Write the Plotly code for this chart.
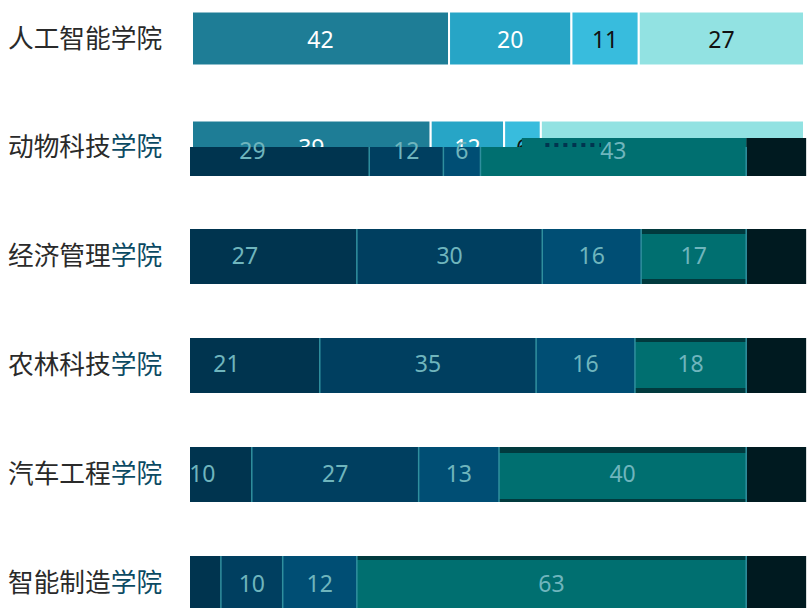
import numpy as np
import plotly.graph_objects as go

categories = ["人工智能学院", "动物科技学院", "经济管理学院", "农林科技学院", "汽车工程学院", "智能制造学院"]

# light layer (only the first two rows are visible in the reference)
light_a = [42, 39]
light_b = [20, 12]
light_c = [11, 6]
light_d = [27, 43]

# dark layer, rows 2-6
dark_a = [29, 27, 21, 10, 5]
dark_b = [12, 30, 35, 27, 10]
dark_c = [6, 16, 16, 13, 12]
dark_d = [43, 17, 18, 40, 63]
dark_e = [9.7, 9.7, 9.7, 9.7, 9.7]

light_colors = ["#1e7d96", "#27a5c6", "#38bcdd", "#92e2e2"]
light_text = ["#ffffff", "#ffffff", "#111111", "#111111"]
dark_colors = ["#00344f", "#003f60", "#004e74", "#006f70", "#001a20"]

PX = 108.9
Y0 = 38.5


def k(p):
    return (np.asarray(p, float) - Y0) / PX


fig = go.Figure()
base = np.zeros(2)
light_y = np.arange(2)
for vals, col, tc in zip([light_a, light_b, light_c, light_d], light_colors, light_text):
    v = np.array(vals, float)
    fig.add_trace(go.Bar(y=light_y, x=v, base=base, orientation="h", width=54 / PX,
                         marker=dict(color=col, line=dict(color="#ffffff", width=2)),
                         text=[str(x) for x in vals], textposition="inside", insidetextanchor="middle",
                         constraintext="none", textangle=0,
                         textfont=dict(color=tc, size=23, family="Noto Sans"),
                         hoverinfo="skip", showlegend=False, xaxis="x", yaxis="y"))
    base = base + v

# bar geometry of the dark layer per row, pixel top/bottom
dark_y = np.arange(1, 6)
top = np.array([147, 229, 338, 447, 556], float)
bot = np.array([176, 284, 393, 502, 612], float)
teal_top = np.array([147, 234, 342, 453, 560], float)
teal_bot = np.array([176, 279, 388, 499, 612], float)
label_y = np.array([153, 258, 366, 476, 586], float)
first_label_shift = np.array([-4.4, -4.6, -4.6, -3.0, 0.0])
strip_x = 53.7
strip_len = 36.3

series = [dark_a, dark_b, dark_c, dark_d, dark_e]
base = np.zeros(5)
text_x, text_y, text_t = [], [], []
sep_x, sep_y = [], []
for i, (vals, col) in enumerate(zip(series, dark_colors)):
    v = np.array(vals, float)
    t, b = top.copy(), bot.copy()
    if i == 4:
        t[0] = 138
    if i == 3:
        fig.add_trace(go.Bar(y=dark_y, x=v, base=base, orientation="h",
                             width=(b - t) / PX, offset=k(t) - dark_y,
                             marker=dict(color="#013a3e", line=dict(width=0)),
                             hoverinfo="skip", showlegend=False, xaxis="x2", yaxis="y"))
        t, b = teal_top.copy(), teal_bot.copy()
    fig.add_trace(go.Bar(y=dark_y, x=v, base=base, orientation="h",
                         width=(b - t) / PX, offset=k(t) - dark_y,
                         marker=dict(color=col, line=dict(width=0)),
                         hoverinfo="skip", showlegend=False, xaxis="x2", yaxis="y"))
    if i < 4:
        cx = base + v / 2
        if i == 0:
            cx = cx + first_label_shift
        text_x += list(cx)
        text_y += list(k(label_y))
        labels = [str(x) for x in vals]
        if i == 0:
            labels[4] = ""
        text_t += labels
        for j in range(5):
            sep_x += [base[j] + v[j], base[j] + v[j], None]
            sep_y += [float(k(top[j])), float(k(bot[j])), None]
    base = base + v

# upper strip of the teal segment in row 2
fig.add_trace(go.Bar(y=[1], x=[strip_len], base=[strip_x], orientation="h",
                     width=[9 / PX], offset=[float(k(138)) - 1],
                     marker=dict(color=dark_colors[3], line=dict(width=0)),
                     hoverinfo="skip", showlegend=False, xaxis="x2", yaxis="y"))
# dotted artefact on that strip
fig.add_trace(go.Scatter(x=[57.5, 66.5], y=[float(k(145))] * 2, mode="lines",
                         line=dict(color="#00344f", width=4, dash="4px,5px"),
                         hoverinfo="skip", showlegend=False, xaxis="x2", yaxis="y"))
fig.add_trace(go.Scatter(x=sep_x, y=sep_y, mode="lines", line=dict(color="#2f8f9e", width=1.5),
                         hoverinfo="skip", showlegend=False, xaxis="x2", yaxis="y"))
fig.add_trace(go.Scatter(x=text_x, y=text_y, text=text_t, mode="text", xaxis="x2", yaxis="y",
                         textfont=dict(color="#6fb5bd", size=23, family="Noto Sans"),
                         hoverinfo="skip", showlegend=False))

ticktext = [c[:4] + '<span style="color:#0b4a63">' + c[4:] + "</span>" if i else c
            for i, c in enumerate(categories)]
fig.update_layout(
    width=808, height=608, margin=dict(l=8, r=0, t=0, b=0, pad=0),
    paper_bgcolor="#ffffff", plot_bgcolor="#ffffff", barmode="overlay",
    showlegend=False,
    xaxis=dict(range=[(8 - 192) / 6.12, (808 - 192) / 6.12], visible=False, fixedrange=True),
    xaxis2=dict(range=[(8 - 190) / 6.18, (808 - 190) / 6.18], visible=False, overlaying="x", anchor="y"),
    yaxis=dict(range=[float(k(608)), float(k(0))], tickmode="array", tickvals=list(range(6)), ticktext=ticktext,
               ticklabelposition="inside", ticks="", ticklen=0, showgrid=False, zeroline=False, showline=False,
               ticklabelstandoff=-3,
               tickfont=dict(family="Noto Sans CJK SC", size=25.7, color="#2a2a2a")),
)
fig.write_html("out.html", default_width="808px", default_height="608px",
               config={"displayModeBar": False},
               post_script="document.documentElement.style.overflow='hidden';document.body.style.overflow='hidden';document.body.style.margin='0';")
